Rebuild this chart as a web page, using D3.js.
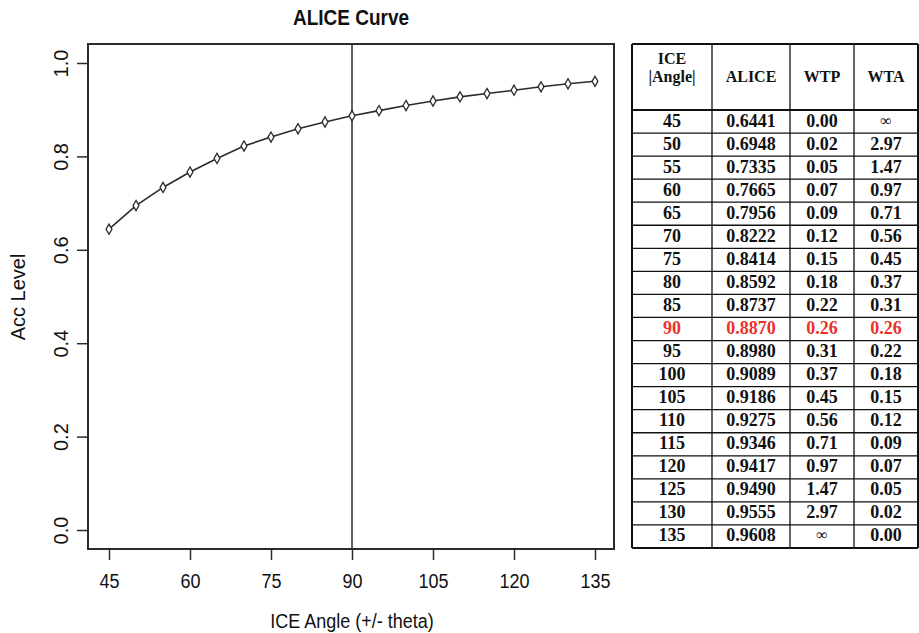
<!DOCTYPE html>
<html>
<head>
<meta charset="utf-8">
<script src="https://cdn.jsdelivr.net/npm/d3@7"></script>
<style>
  body { margin: 0; background: #fff; }
  svg { display: block; }
</style>
</head>
<body>
<div id="chart"></div>
<script>
var width = 919;
var height = 633;

// data
var angles = [45, 50, 55, 60, 65, 70, 75, 80, 85, 90, 95, 100, 105, 110, 115, 120, 125, 130, 135];
var alice = [0.6441, 0.6948, 0.7335, 0.7665, 0.7956, 0.8222, 0.8414, 0.8592, 0.8737, 0.8870,
             0.8980, 0.9089, 0.9186, 0.9275, 0.9346, 0.9417, 0.9490, 0.9555, 0.9608];
var wtp = ["0.00", "0.02", "0.05", "0.07", "0.09", "0.12", "0.15", "0.18", "0.22", "0.26",
           "0.31", "0.37", "0.45", "0.56", "0.71", "0.97", "1.47", "2.97", "\u221e"];
var wta = ["\u221e", "2.97", "1.47", "0.97", "0.71", "0.56", "0.45", "0.37", "0.31", "0.26",
           "0.22", "0.18", "0.15", "0.12", "0.09", "0.07", "0.05", "0.02", "0.00"];
var xTicks = [45, 60, 75, 90, 105, 120, 135];
var yTicks = [0, 0.2, 0.4, 0.6, 0.8, 1.0];
var refAngle = 90;

var svg = d3.select("#chart").append("svg")
    .attr("width", width)
    .attr("height", height);

// ---- plot ----
var box = {left: 88, right: 614, top: 44, bottom: 549};

var x = d3.scaleLinear().domain([45, 135]).range([109, 595]);
var y = d3.scaleLinear().domain([0, 1]).range([530, 63]);

var sans = "'Liberation Sans', Arial, Helvetica, sans-serif";
var ink = "#2b2b2b";
var stretch = " scale(1,1.17)"; // the source text is a bit tall and narrow

svg.append("text")
    .attr("transform", "translate(351,25)" + stretch)
    .attr("text-anchor", "middle")
    .style("font-family", sans)
    .style("font-weight", "bold")
    .style("font-size", "19px")
    .attr("fill", "#111")
    .text("ALICE Curve");

svg.append("rect")
    .attr("x", box.left).attr("y", box.top)
    .attr("width", box.right - box.left)
    .attr("height", box.bottom - box.top)
    .attr("fill", "none")
    .attr("stroke", ink)
    .attr("stroke-width", 2);

// x axis
var xAxis = svg.append("g")
    .attr("transform", "translate(0," + box.bottom + ")")
    .call(d3.axisBottom(x).tickValues(xTicks).tickSize(11).tickFormat(d3.format("d")));
xAxis.select(".domain").remove();
xAxis.selectAll("line").attr("stroke", ink).attr("stroke-width", 1.5);
xAxis.selectAll("text")
    .attr("y", null).attr("dy", null)
    .attr("transform", "translate(0,39)" + stretch)
    .style("font-family", sans)
    .style("font-size", "18px")
    .attr("fill", "#111");

// y axis, labels turned as in R
var yAxis = svg.append("g")
    .attr("transform", "translate(" + box.left + ",0)")
    .call(d3.axisLeft(y).tickValues(yTicks).tickSize(11).tickFormat(d3.format(".1f")));
yAxis.select(".domain").remove();
yAxis.selectAll("line").attr("stroke", ink).attr("stroke-width", 1.5);
yAxis.selectAll("text")
    .attr("x", null).attr("dy", null)
    .attr("text-anchor", "middle")
    .attr("transform", "translate(-20,0) rotate(-90)")
    .style("font-family", sans)
    .style("font-size", "20px")
    .attr("fill", "#111");

svg.append("text")
    .attr("transform", "translate(25,297) rotate(-90)")
    .attr("text-anchor", "middle")
    .style("font-family", sans)
    .style("font-size", "20px")
    .attr("fill", "#111")
    .text("Acc Level");

svg.append("text")
    .attr("transform", "translate(352,628)" + stretch)
    .attr("text-anchor", "middle")
    .style("font-family", sans)
    .style("font-size", "18px")
    .attr("fill", "#111")
    .text("ICE Angle (+/- theta)");

// reference line
svg.append("line")
    .attr("x1", x(refAngle)).attr("x2", x(refAngle))
    .attr("y1", box.top).attr("y2", box.bottom)
    .attr("stroke", ink)
    .attr("stroke-width", 1.5);

var pts = angles.map(function(a, i) { return [a, alice[i]]; });

svg.append("path")
    .datum(pts)
    .attr("fill", "none")
    .attr("stroke", ink)
    .attr("stroke-width", 1.6)
    .attr("d", d3.line().x(function(d) { return x(d[0]); }).y(function(d) { return y(d[1]); }));

svg.selectAll("path.pt").data(pts).enter()
    .append("path")
    .attr("class", "pt")
    .attr("transform", function(d) { return "translate(" + x(d[0]) + "," + y(d[1]) + ")"; })
    .attr("d", d3.symbol().type(d3.symbolDiamond).size(30))
    .attr("fill", "#fff")
    .attr("stroke", ink)
    .attr("stroke-width", 1.3);

// ---- table ----
var serif = "'Liberation Serif', 'Times New Roman', serif";
var tb = {left: 632, right: 918, top: 44, head: 110, bottom: 548};
var colEdges = [632, 712, 790, 854, 918];
var colMid = colEdges.slice(0, 4).map(function(c, i) { return (c + colEdges[i + 1]) / 2; });

var row = d3.scaleBand()
    .domain(d3.range(angles.length))
    .range([tb.head, tb.bottom]);

var tg = svg.append("g");

// horizontal rules
tg.selectAll("line.h").data(d3.range(angles.length + 1)).enter()
    .append("line")
    .attr("x1", tb.left).attr("x2", tb.right)
    .attr("y1", function(i) { return i === angles.length ? tb.bottom : row(i); })
    .attr("y2", function(i) { return i === angles.length ? tb.bottom : row(i); })
    .attr("stroke", "#111")
    .attr("stroke-width", function(i) { return (i === 0 || i === angles.length) ? 2 : 1.3; });

tg.selectAll("line.v").data(colEdges).enter()
    .append("line")
    .attr("x1", function(d) { return d; }).attr("x2", function(d) { return d; })
    .attr("y1", tb.top).attr("y2", tb.bottom)
    .attr("stroke", "#111")
    .attr("stroke-width", function(d, i) { return (i === 0 || i === 4) ? 2 : 1.3; });

tg.append("line")
    .attr("x1", tb.left).attr("x2", tb.right)
    .attr("y1", tb.top).attr("y2", tb.top)
    .attr("stroke", "#111").attr("stroke-width", 2);

// header
var headStyle = function(s) {
  s.attr("text-anchor", "middle")
   .style("font-family", serif)
   .style("font-weight", "bold")
   .style("font-size", "16px")
   .attr("fill", "#111");
};
tg.append("text").attr("x", colMid[0]).attr("y", 64).text("ICE").call(headStyle);
tg.append("text").attr("x", colMid[0]).attr("y", 82).text("|Angle|").call(headStyle);
["ALICE", "WTP", "WTA"].forEach(function(h, i) {
  tg.append("text").attr("x", colMid[i + 1]).attr("y", 82).text(h).call(headStyle);
});

// body
var cells = [];
angles.forEach(function(a, i) {
  [String(a), alice[i].toFixed(4), wtp[i], wta[i]].forEach(function(v, j) {
    cells.push({r: i, c: j, v: v, hot: a === refAngle});
  });
});

tg.selectAll("text.cell").data(cells).enter()
    .append("text")
    .attr("class", "cell")
    .attr("x", function(d) { return colMid[d.c]; })
    .attr("y", function(d) { return row(d.r) + row.bandwidth() / 2 + (d.v === "\u221e" ? 4 : 5); })
    .attr("text-anchor", "middle")
    .style("font-family", serif)
    .style("font-weight", function(d) { return d.v === "\u221e" ? "normal" : "bold"; })
    .style("font-size", function(d) { return d.v === "\u221e" ? "16px" : "18px"; })
    .attr("fill", function(d) { return d.hot ? "#e8322b" : "#111"; })
    .text(function(d) { return d.v; });
</script>
</body>
</html>
